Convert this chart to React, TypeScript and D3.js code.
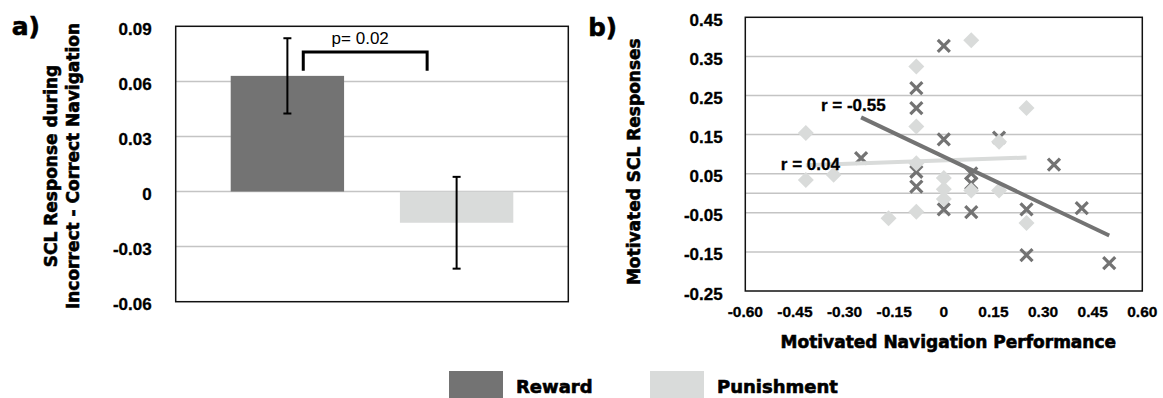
import React from "react";
import * as d3 from "d3";

// ---------- Data ----------
const barCategories = ["Reward", "Punishment"];
const barValues = [0.063, -0.017];
const barErrors = [0.0205, 0.025];
const barYTicks = [-0.06, -0.03, 0, 0.03, 0.06, 0.09];
const barYTickLabels = ["-0.06", "-0.03", "0", "0.03", "0.06", "0.09"];
const pValueLabel = "p= 0.02";

const rewardX = [0, -0.083, -0.083, 0, 0.167, 0.333, -0.083, -0.083, 0.083, 0.083, 0, 0.083, 0.25, 0.417, 0.25, 0.5, -0.25];
const rewardY = [0.377, 0.269, 0.218, 0.138, 0.142, 0.073, 0.055, 0.017, 0.051, 0.025, -0.041, -0.048, -0.041, -0.038, -0.158, -0.179, 0.09];

const punishX = [0.083, -0.083, 0.25, -0.083, 0.167, -0.083, 0, 0, 0, 0.083, 0.167, -0.083, 0.25, -0.167, -0.417, -0.417, -0.333];
const punishY = [0.391, 0.324, 0.218, 0.171, 0.132, 0.077, 0.039, 0.01, -0.015, 0.007, 0.007, -0.047, -0.076, -0.064, 0.154, 0.034, 0.047];

const scatterXTicks = [-0.6, -0.45, -0.3, -0.15, 0, 0.15, 0.3, 0.45, 0.6];
const scatterXTickLabels = ["-0.60", "-0.45", "-0.30", "-0.15", "0", "0.15", "0.30", "0.45", "0.60"];
const scatterYTicks = [-0.25, -0.15, -0.05, 0.05, 0.15, 0.25, 0.35, 0.45];
const scatterYTickLabels = ["-0.25", "-0.15", "-0.05", "0.05", "0.15", "0.25", "0.35", "0.45"];
const correlationLabels = ["r = -0.55", "r = 0.04"];
// annotation anchor positions in data units
const correlationLabelX = [-0.3715, -0.4925];
const correlationLabelY = [0.2107, 0.0598];

const seriesColors = ["#737373", "#d9dbda"];

function fit(xs: number[], ys: number[]) {
  const mx = d3.mean(xs) as number;
  const my = d3.mean(ys) as number;
  let sxy = 0, sxx = 0;
  xs.forEach((x, i) => {
    sxy += (x - mx) * (ys[i] - my);
    sxx += (x - mx) * (x - mx);
  });
  const slope = sxy / sxx;
  const intercept = my - slope * mx;
  const [x0, x1] = d3.extent(xs) as [number, number];
  return [
    [x0, intercept + slope * x0],
    [x1, intercept + slope * x1],
  ] as [number, number][];
}

const tickFont = "'Liberation Sans', Arial, Helvetica, sans-serif";
const titleFont = "'DejaVu Sans', Verdana, sans-serif";
const gridColor = "#c4c4c4";
const heavy = { stroke: "#000", strokeWidth: 0.6 };

export default function App() {
  const W = 1163, H = 398;

  // Panel a
  const aX0 = 175.7, aX1 = 568.3, aY0 = 26.3, aY1 = 301.7;
  const ay = d3.scaleLinear().domain([-0.06, 0.09]).range([aY1, aY0]);
  const ax = d3.scaleBand<string>().domain(barCategories).range([aX0, aX1]).paddingInner(0.33).paddingOuter(0.325);
  const bw = ax.bandwidth();
  const cx = (c: string) => (ax(c) as number) + bw / 2;

  const brLeft = cx(barCategories[0]) + bw * 0.14;
  const brRight = cx(barCategories[1]) - bw * 0.26;
  const brTop = ay(0.076);
  const brBottom = ay(0.0658);

  // Panel b
  const bX0 = 745.3, bX1 = 1142.3, bY0 = 17.3, bY1 = 291;
  const bx = d3.scaleLinear().domain([-0.6, 0.6]).range([bX0, bX1]);
  const by = d3.scaleLinear().domain([-0.25, 0.45]).range([bY1, bY0]);
  const line = d3.line<[number, number]>().x((d) => bx(d[0])).y((d) => by(d[1]));
  const rewardFit = fit(rewardX, rewardY);
  const punishFit = fit(punishX, punishY);

  const xMark = "M-6,-6L6,6M-6,6L6,-6";
  const diamond = "M0,-8L8,0L0,8L-8,0Z";

  return (
    <svg width={W} height={H} style={{ position: "absolute", left: 0, top: 0, background: "#fff" }}>
      <rect x={0} y={0} width={W} height={H} fill="#fff" />
      {/* ---------- Panel a ---------- */}
      <text x={11.7} y={34.5} fontFamily={titleFont} fontWeight="bold" fontSize={25} {...heavy}>a)</text>
      <text transform={`translate(56.7,166) rotate(-90)`} textAnchor="middle" fontFamily={titleFont} fontWeight="bold" fontSize={17} {...heavy}>SCL Response during</text>
      <text transform={`translate(78.7,166) rotate(-90)`} textAnchor="middle" fontFamily={titleFont} fontWeight="bold" fontSize={17} {...heavy}>Incorrect - Correct Navigation</text>
      {barYTicks.map((t, i) => (
        <g key={"ag" + i}>
          {t > -0.06 && t < 0.09 && (
            <line x1={aX0} x2={aX1} y1={ay(t)} y2={ay(t)} stroke={gridColor} strokeWidth={1.5} />
          )}
          <text x={151.7} y={ay(t) + 8.5} textAnchor="end" fontFamily={tickFont} fontWeight="bold" fontSize={17} stroke="#000" strokeWidth={0.3}>{barYTickLabels[i]}</text>
        </g>
      ))}
      {barCategories.map((c, i) => {
        const v = barValues[i];
        return (
          <rect key={"bar" + i} x={ax(c)} width={bw} y={Math.min(ay(v), ay(0))} height={Math.abs(ay(v) - ay(0))} fill={seriesColors[i]} />
        );
      })}
      {barCategories.map((c, i) => {
        const v = barValues[i], e = barErrors[i], x = cx(c);
        return (
          <g key={"err" + i} stroke="#000" strokeWidth={2}>
            <line x1={x} x2={x} y1={ay(v + e)} y2={ay(v - e)} />
            <line x1={x - 4} x2={x + 4} y1={ay(v + e)} y2={ay(v + e)} />
            <line x1={x - 4} x2={x + 4} y1={ay(v - e)} y2={ay(v - e)} />
          </g>
        );
      })}
      <path d={`M${brLeft},${brBottom}V${brTop}H${brRight}V${brBottom}`} fill="none" stroke="#000" strokeWidth={3} />
      <text x={(brLeft + brRight) / 2 - 5} y={ay(0.0806)} textAnchor="middle" fontFamily={tickFont} fontSize={17}>{pValueLabel}</text>
      <rect x={aX0} y={aY0} width={aX1 - aX0} height={aY1 - aY0} fill="none" stroke="#111" strokeWidth={1.5} />

      {/* ---------- Panel b ---------- */}
      <text x={588.3} y={36} fontFamily={titleFont} fontWeight="bold" fontSize={24.5} {...heavy}>b)</text>
      <text transform={`translate(639.5,161.7) rotate(-90)`} textAnchor="middle" fontFamily={titleFont} fontWeight="bold" fontSize={17} {...heavy}>Motivated SCL Responses</text>
      {scatterYTicks.map((t, i) => (
        <g key={"bg" + i}>
          {t > -0.25 && t < 0.45 && (
            <line x1={bX0} x2={bX1} y1={by(t)} y2={by(t)} stroke={gridColor} strokeWidth={1.5} />
          )}
          <text x={722.7} y={by(t) + 8.5} textAnchor="end" fontFamily={tickFont} fontWeight="bold" fontSize={17} stroke="#000" strokeWidth={0.3}>{scatterYTickLabels[i]}</text>
        </g>
      ))}
      <line x1={bX0} x2={bX1} y1={by(0)} y2={by(0)} stroke={gridColor} strokeWidth={1.5} />
      {scatterXTicks.map((t, i) => (
        <text key={"bx" + i} x={bx(t)} y={317.3} textAnchor="middle" fontFamily={tickFont} fontWeight="bold" fontSize={15.5} stroke="#000" strokeWidth={0.3}>{scatterXTickLabels[i]}</text>
      ))}
      <text x={948.3} y={348.3} textAnchor="middle" fontFamily={titleFont} fontWeight="bold" fontSize={17} {...heavy}>Motivated Navigation Performance</text>

      {rewardX.map((x, i) => (
        <path key={"rx" + i} d={xMark} transform={`translate(${bx(x)},${by(rewardY[i])})`} stroke={seriesColors[0]} strokeWidth={3.2} fill="none" />
      ))}
      {punishX.map((x, i) => (
        <path key={"pd" + i} d={diamond} transform={`translate(${bx(x)},${by(punishY[i])})`} fill={seriesColors[1]} />
      ))}
      <path d={line(punishFit) as string} stroke={seriesColors[1]} strokeWidth={4} fill="none" />
      <path d={line(rewardFit) as string} stroke={seriesColors[0]} strokeWidth={4} fill="none" />
      {correlationLabels.map((l, i) => (
        <text key={"cl" + i} x={bx(correlationLabelX[i])} y={by(correlationLabelY[i])} fontFamily={tickFont} fontWeight="bold" fontSize={17} stroke="#000" strokeWidth={0.3}>{l}</text>
      ))}
      <rect x={bX0} y={bY0} width={bX1 - bX0} height={bY1 - bY0} fill="none" stroke="#111" strokeWidth={1.5} />

      {/* ---------- Legend ---------- */}
      {barCategories.map((c, i) => (
        <g key={"lg" + i} transform={`translate(${449 + i * 201},371)`}>
          <rect x={0} y={0} width={54} height={27} fill={seriesColors[i]} />
          <text x={67} y={22.3} fontFamily={titleFont} fontWeight="bold" fontSize={18} {...heavy}>{c}</text>
        </g>
      ))}
    </svg>
  );
}
